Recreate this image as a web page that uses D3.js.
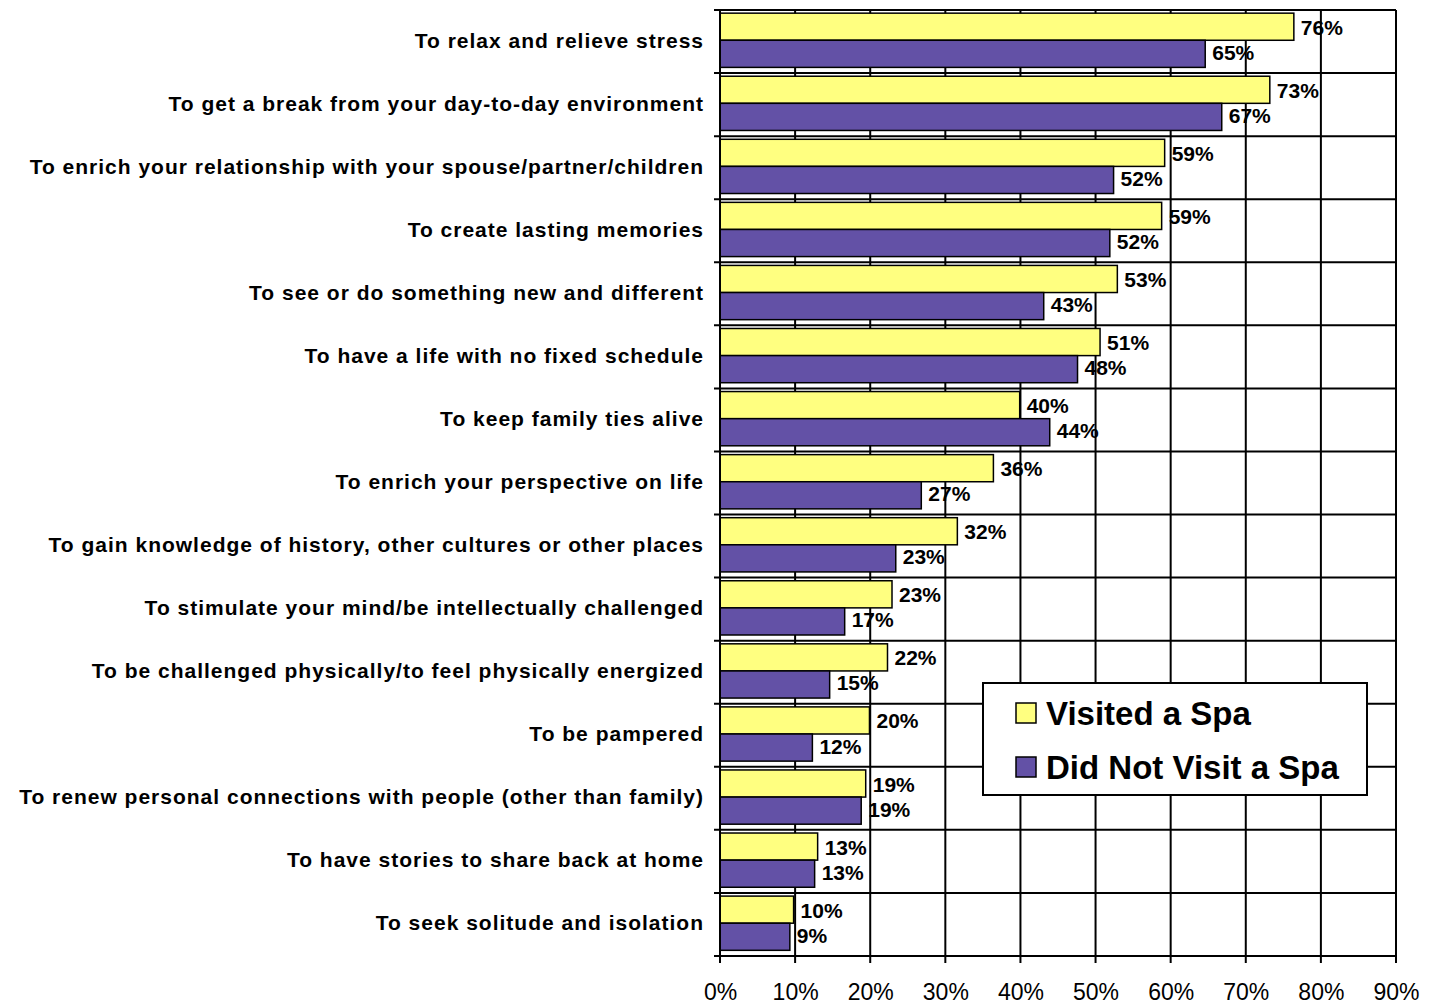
<!DOCTYPE html>
<html>
<head>
<meta charset="utf-8">
<script src="https://d3js.org/d3.v7.min.js"></script>
<style>
    body { margin: 0; background: #fff; }
    text { font-family: "Liberation Sans", Arial, sans-serif; fill: #000; }
    .cat { font-size: 21px; font-weight: bold; letter-spacing: 1px; }
    .val { font-size: 21px; font-weight: bold; }
    .tick text { font-size: 23px; }
    .legend text { font-size: 33px; font-weight: bold; }
</style>
</head>
<body>
<script>
// Chart data
var categories = [
    "To relax and relieve stress",
    "To get a break from your day-to-day environment",
    "To enrich your relationship with your spouse/partner/children",
    "To create lasting memories",
    "To see or do something new and different",
    "To have a life with no fixed schedule",
    "To keep family ties alive",
    "To enrich your perspective on life",
    "To gain knowledge of history, other cultures or other places",
    "To stimulate your mind/be intellectually challenged",
    "To be challenged physically/to feel physically energized",
    "To be pampered",
    "To renew personal connections with people (other than family)",
    "To have stories to share back at home",
    "To seek solitude and isolation"
];
var visited = [76.4, 73.2, 59.2, 58.8, 52.9, 50.6, 39.9, 36.4, 31.6, 22.9, 22.3, 19.9, 19.4, 13.0, 9.8];
var notVisited = [64.6, 66.8, 52.4, 51.9, 43.1, 47.6, 43.9, 26.8, 23.4, 16.6, 14.6, 12.3, 18.8, 12.6, 9.3];
var seriesNames = ["Visited a Spa", "Did Not Visit a Spa"];
var xTicks = [0, 10, 20, 30, 40, 50, 60, 70, 80, 90];

var colors = ["#FFFF80", "#6351A6"];

// Dimensions
var margin = { top: 10, right: 43, bottom: 48, left: 720 },
    width = 1439 - margin.left - margin.right,
    height = 1004 - margin.top - margin.bottom;

var svg = d3.select("body")
    .append("svg")
    .attr("width", 1439)
    .attr("height", 1004)
    .append("g")
    .attr("transform", "translate(" + margin.left + "," + margin.top + ")");

// Scales
var x = d3.scaleLinear().domain([0, 90]).range([0, width]);
var y = d3.scaleBand().domain(categories).range([0, height]);
var inner = d3.scaleBand().domain([0, 1])
    .range([y.bandwidth() * 0.05, y.bandwidth() * 0.91]);

// Grid lines
svg.selectAll(".vgrid")
    .data(xTicks)
    .enter().append("line")
    .attr("x1", function (d) { return x(d); })
    .attr("x2", function (d) { return x(d); })
    .attr("y1", 0)
    .attr("y2", height + 7)
    .attr("stroke", "#000")
    .attr("stroke-width", 2);

var bounds = categories.map(function (c) { return y(c); }).concat([height]);
svg.selectAll(".hgrid")
    .data(bounds)
    .enter().append("line")
    .attr("x1", -6)
    .attr("x2", width)
    .attr("y1", function (d) { return d; })
    .attr("y2", function (d) { return d; })
    .attr("stroke", "#000")
    .attr("stroke-width", 2);

// Bars
var rows = categories.map(function (c, i) {
    return { cat: c, values: [visited[i], notVisited[i]] };
});

var groups = svg.selectAll(".row")
    .data(rows)
    .enter().append("g")
    .attr("transform", function (d) { return "translate(0," + y(d.cat) + ")"; });

groups.selectAll("rect")
    .data(function (d) { return d.values; })
    .enter().append("rect")
    .attr("x", 0)
    .attr("y", function (d, i) { return inner(i); })
    .attr("width", function (d) { return x(d); })
    .attr("height", inner.bandwidth())
    .attr("fill", function (d, i) { return colors[i]; })
    .attr("stroke", "#000")
    .attr("stroke-width", 1.5);

groups.selectAll(".val")
    .data(function (d) { return d.values; })
    .enter().append("text")
    .attr("class", "val")
    .attr("x", function (d) { return x(d) + 7; })
    .attr("y", function (d, i) { return inner(i) + inner.bandwidth() / 2 + (i ? 6 : 8); })
    .text(function (d) { return d3.format(".0f")(d) + "%"; });

// Category labels
svg.selectAll(".cat")
    .data(categories)
    .enter().append("text")
    .attr("class", "cat")
    .attr("x", -16)
    .attr("y", function (d) { return y(d) + y.bandwidth() / 2 + 6; })
    .attr("text-anchor", "end")
    .text(function (d) { return d; });

// Left axis line
svg.append("line")
    .attr("x1", 0).attr("x2", 0)
    .attr("y1", 0).attr("y2", height)
    .attr("stroke", "#000")
    .attr("stroke-width", 2);

// X axis labels
var xAxis = d3.axisBottom(x)
    .tickValues(xTicks)
    .tickSize(0)
    .tickPadding(28)
    .tickFormat(function (d) { return d + "%"; });

svg.append("g")
    .attr("class", "x axis")
    .attr("transform", "translate(0," + height + ")")
    .call(xAxis)
    .call(function (g) { g.select(".domain").remove(); })
    .selectAll("text")
    .attr("fill", "#000");

// Legend
var legend = svg.append("g")
    .attr("class", "legend")
    .attr("transform", "translate(263,673)");

legend.append("rect")
    .attr("width", 384)
    .attr("height", 112)
    .attr("fill", "#fff")
    .attr("stroke", "#000")
    .attr("stroke-width", 2);

var items = legend.selectAll(".item")
    .data(seriesNames)
    .enter().append("g")
    .attr("transform", function (d, i) { return "translate(33," + (20 + i * 54) + ")"; });

items.append("rect")
    .attr("width", 20)
    .attr("height", 20)
    .attr("fill", function (d, i) { return colors[i]; })
    .attr("stroke", "#000")
    .attr("stroke-width", 1.5);

items.append("text")
    .attr("x", 30)
    .attr("y", 22)
    .text(function (d) { return d; });
</script>
</body>
</html>
